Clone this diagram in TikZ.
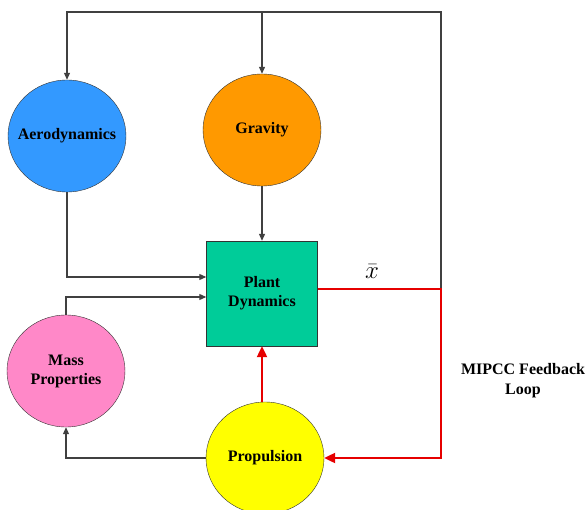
\documentclass[tikz,border=0pt]{standalone}
\usepackage{fontspec}
\setmainfont{Liberation Serif}
\usetikzlibrary{shapes.geometric,arrows.meta}
\definecolor{aeroblue}{RGB}{51,153,255}
\definecolor{gravorange}{RGB}{255,153,0}
\definecolor{plantgreen}{RGB}{0,204,153}
\definecolor{masspink}{RGB}{255,136,200}
\definecolor{propyellow}{RGB}{255,255,0}
\definecolor{loopred}{RGB}{230,0,0}
\begin{document}
\begin{tikzpicture}[x=1pt,y=-1pt,
        blob/.style={ellipse, draw=black!80, thin, minimum width=118pt, minimum height=112pt, inner xsep=-8pt, inner ysep=0pt, align=center, font=\fontsize{16}{19}\selectfont\bfseries},
        plantbox/.style={rectangle, draw=black!80, thin, minimum width=111pt, minimum height=105pt, align=center, font=\fontsize{16}{19}\selectfont\bfseries},
        conn/.style={draw=black!75, line width=1.1pt, -{Triangle[length=7pt,width=6pt]}},
        fb/.style={draw=loopred, line width=2.2pt, -{Triangle[length=11pt,width=10pt]}}]
            \useasboundingbox (0,0) rectangle (588,510);

            % 各个模块
            \node[blob, fill=aeroblue] (aero) at (67,136) {Aerodynamics};
            \node[blob, fill=gravorange] (grav) at (262,130) {Gravity};
            \node[plantbox, fill=plantgreen] (plant) at (262,293.5) {Plant\\Dynamics};
            \node[blob, fill=masspink] (mass) at (66,371) {Mass\\Properties};
            \node[blob, fill=propyellow] (prop) at (265,458) {Propulsion};

            % 折点
            \coordinate (junc) at (441,289);
            \coordinate (topr) at (441,12);
            \coordinate (topg) at (262,12);

            % 黑色连线
            \draw[conn] (junc) -- (topr) -| (aero.north);
            \draw[conn] (topg) -- (grav.north);
            \draw[conn] (grav.south) -- (plant.north);
            \draw[conn] (aero.south) |- ([yshift=16.5pt]plant.west);
            \draw[conn] (mass.north) |- ([yshift=-3.5pt]plant.west);
            \draw[conn] (prop.west) -| (mass.south);

            % 红色反馈回路
            \draw[fb] (plant.south |- prop.north) -- (plant.south);
            \draw[fb] ([yshift=4.5pt]plant.east) -- (junc) |- (prop.east);

            % 标注
            \node[font=\fontsize{27}{30}\selectfont] (xbar) at (372,272) {$\bar{x}$};
            \node[align=center, font=\fontsize{16}{20}\selectfont\bfseries] (mipcc) at (523,381) {MIPCC Feedback\\Loop};

\end{tikzpicture}
\end{document}
